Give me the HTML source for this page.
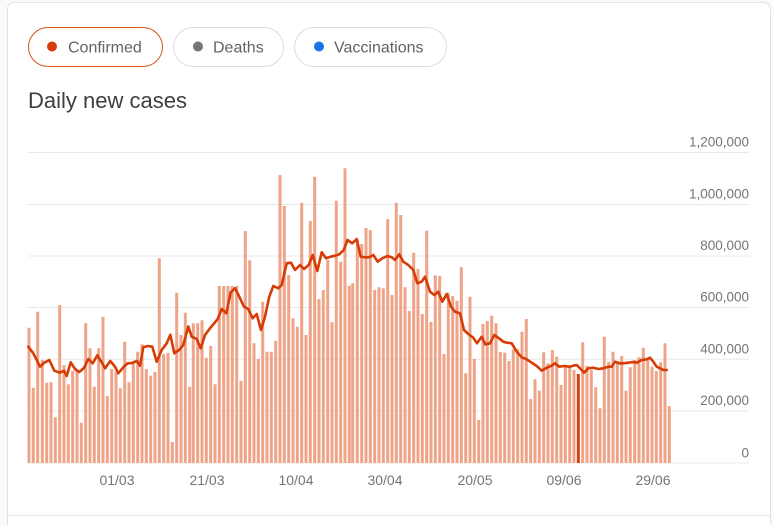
<!DOCTYPE html>
<html><head><meta charset="utf-8">
<style>
html,body{margin:0;padding:0;background:#fff;}
body{width:773px;height:525px;overflow:hidden;}
svg{display:block;}
text{font-family:"Liberation Sans",Arial,sans-serif;}
</style></head>
<body>
<svg width="773" height="525" viewBox="0 0 773 525" xmlns="http://www.w3.org/2000/svg">
<rect x="0" y="0" width="773" height="525" fill="#fafafa"/>
<path d="M7.5 525V10Q7.5 2.5 15 2.5H763Q770.5 2.5 770.5 10V525" fill="#fff" stroke="#e3e3e3" stroke-width="1"/>
<line x1="8" y1="515.5" x2="770" y2="515.5" stroke="#e6e6e6" stroke-width="1"/>
<rect x="28.5" y="27.5" width="134" height="39" rx="19.5" fill="#fff" stroke="#d4531c" stroke-width="1"/>
<circle cx="52" cy="46.5" r="5" fill="#d83b0b"/>
<text x="68" y="52.3" font-size="16" fill="#5f6368">Confirmed</text>
<rect x="173.5" y="27.5" width="110" height="39" rx="19.5" fill="#fff" stroke="#dadce0" stroke-width="1"/>
<circle cx="198" cy="46.5" r="5" fill="#757575"/>
<text x="213" y="52.3" font-size="16" fill="#5f6368">Deaths</text>
<rect x="294.5" y="27.5" width="152" height="39" rx="19.5" fill="#fff" stroke="#dadce0" stroke-width="1"/>
<circle cx="319" cy="46.5" r="5" fill="#1a73e8"/>
<text x="334" y="52.3" font-size="16" fill="#5f6368">Vaccinations</text>
<text x="28" y="108" font-size="22" fill="#3c4043">Daily new cases</text>
<g stroke="#e8e8e8" stroke-width="1">
<line x1="28" y1="152.5" x2="749" y2="152.5"/>
<line x1="28" y1="204.5" x2="749" y2="204.5"/>
<line x1="28" y1="256" x2="749" y2="256"/>
<line x1="28" y1="307.5" x2="749" y2="307.5"/>
<line x1="28" y1="359.3" x2="749" y2="359.3"/>
<line x1="28" y1="411" x2="749" y2="411"/>
<line x1="28" y1="463" x2="749" y2="463"/>
</g>
<g font-size="13.5" fill="#70757a" text-anchor="end">
<text x="749" y="146.5">1,200,000</text>
<text x="749" y="198.3">1,000,000</text>
<text x="749" y="250">800,000</text>
<text x="749" y="301.7">600,000</text>
<text x="749" y="353.4">400,000</text>
<text x="749" y="405.1">200,000</text>
<text x="749" y="457.5">0</text>
</g>
<path fill="#efa488" d="M27.5 463V327.7h3V463zM31.8 463V387.7h3V463zM36.2 463V311.7h3V463zM40.8 463V360h3V463zM45.2 463V382.7h3V463zM49.5 463V382.3h3V463zM53.8 463V417.3h3V463zM58.2 463V305h3V463zM62.5 463V365h3V463zM66.8 463V384.3h3V463zM71.2 463V370.7h3V463zM75.5 463V370.7h3V463zM79.8 463V422.7h3V463zM84.2 463V323.3h3V463zM88.5 463V348.3h3V463zM92.8 463V386.7h3V463zM97.2 463V348.3h3V463zM101.5 463V317h3V463zM105.8 463V396h3V463zM110.2 463V369h3V463zM114.5 463V371.7h3V463zM118.8 463V388.3h3V463zM123.2 463V341.7h3V463zM127.5 463V382.3h3V463zM131.8 463V363.3h3V463zM136.2 463V351.7h3V463zM140.5 463V344.3h3V463zM144.8 463V369h3V463zM149.2 463V375.7h3V463zM153.5 463V372h3V463zM157.8 463V258.3h3V463zM162.2 463V354h3V463zM166.5 463V352.7h3V463zM170.8 463V442h3V463zM175.2 463V292.7h3V463zM179.5 463V335h3V463zM183.8 463V312.7h3V463zM188.2 463V386.7h3V463zM191.8 463V323.3h3V463zM196.2 463V323.3h3V463zM200.5 463V320.3h3V463zM204.8 463V357.7h3V463zM209.2 463V346h3V463zM213.5 463V384.3h3V463zM217.8 463V286h3V463zM222.2 463V286h3V463zM226.5 463V286h3V463zM230.8 463V286h3V463zM235.2 463V286h3V463zM239.5 463V381h3V463zM243.8 463V231h3V463zM248.2 463V260.3h3V463zM252.5 463V343.3h3V463zM256.8 463V359h3V463zM261.2 463V301.7h3V463zM265.5 463V351.7h3V463zM269.8 463V351.7h3V463zM274.2 463V340.7h3V463zM278.5 463V175h3V463zM282.8 463V206h3V463zM287.2 463V275h3V463zM291.5 463V318.3h3V463zM295.8 463V326.7h3V463zM300.2 463V202.7h3V463zM304.5 463V335h3V463zM308.8 463V221h3V463zM313.2 463V176.7h3V463zM317.5 463V299h3V463zM321.8 463V290h3V463zM326.2 463V260h3V463zM330.5 463V322.3h3V463zM334.8 463V200.7h3V463zM339.2 463V261.7h3V463zM343.5 463V168.3h3V463zM347.8 463V285.7h3V463zM351.2 463V283.3h3V463zM355.8 463V240h3V463zM360.2 463V244h3V463zM364.5 463V228h3V463zM368.8 463V230h3V463zM373.2 463V290h3V463zM377.5 463V287.3h3V463zM381.8 463V288.3h3V463zM386.2 463V219h3V463zM390.5 463V295h3V463zM394.8 463V202.7h3V463zM399.2 463V215h3V463zM403.5 463V287.3h3V463zM407.8 463V311h3V463zM412.2 463V252.7h3V463zM416.5 463V269h3V463zM420.8 463V314h3V463zM425.2 463V230.7h3V463zM429.5 463V322h3V463zM433.8 463V275.3h3V463zM438.2 463V276h3V463zM442.5 463V354h3V463zM446.8 463V292.7h3V463zM451.2 463V296h3V463zM455.5 463V300.7h3V463zM459.8 463V267.3h3V463zM464.2 463V373.3h3V463zM468.5 463V296.7h3V463zM472.8 463V359h3V463zM477.2 463V420h3V463zM481.5 463V324h3V463zM485.8 463V321h3V463zM490.2 463V315.7h3V463zM494.5 463V323.3h3V463zM498.8 463V352h3V463zM503.2 463V352.7h3V463zM507.5 463V361h3V463zM511.8 463V349.3h3V463zM516.2 463V349h3V463zM520.5 463V331.7h3V463zM524.8 463V319h3V463zM529.2 463V399h3V463zM533.5 463V379.3h3V463zM537.8 463V390.7h3V463zM542.2 463V352.3h3V463zM546.5 463V363.3h3V463zM550.8 463V350h3V463zM555.2 463V356.7h3V463zM559.5 463V385h3V463zM563.8 463V366.7h3V463zM568.2 463V366.7h3V463zM572.5 463V370h3V463zM581.2 463V342.3h3V463zM585.5 463V365.7h3V463zM589.8 463V370h3V463zM594.2 463V387.3h3V463zM598.5 463V408.3h3V463zM602.8 463V336.7h3V463zM607.2 463V361.7h3V463zM611.5 463V351.7h3V463zM615.8 463V361h3V463zM620.2 463V356h3V463zM624.5 463V390.7h3V463zM628.8 463V367.3h3V463zM633.2 463V360h3V463zM637.5 463V357.3h3V463zM641.8 463V347.7h3V463zM646.2 463V359.3h3V463zM650.5 463V366.7h3V463zM654.8 463V371h3V463zM659.2 463V362.3h3V463zM663.5 463V343.3h3V463zM667.8 463V406h3V463z"/>
<rect x="576.8" y="374" width="3" height="89" fill="#d2400c"/>
<polyline fill="none" stroke="#d63c06" stroke-width="2.6" stroke-linejoin="round" stroke-linecap="round" points="28.3,346.7 33.3,353.3 40,366.7 44.3,362.7 49.3,360 54.3,370.7 59.7,372.7 64,370.7 66.7,376 70.7,362.3 75,369 79.3,372 83.7,368.3 88.3,359 92.7,363.3 97.3,355.3 101.7,362.3 105,368.3 110.3,361 115,366.7 118.3,373.3 123.3,367.3 127.7,363.3 132,363 136.7,361 140,365.7 143.3,347.3 147.7,346 152.3,346.7 156.7,361.7 161.7,350 166.7,343.3 170.3,334.7 174.3,353.3 179,350 183.3,345 188.3,326.5 191.7,336.7 196.7,339 200.7,348.3 205,335 210,328.3 217.7,319 221.7,309 226.3,313.3 230.7,292.3 235,288.3 239.3,296.7 244,306.7 248.3,309 252.7,318.3 256.7,314 261,330 265,316.7 269.3,296.7 273.3,286 278.3,288.3 281.7,285 286.7,263.3 291,262.7 295,270 300,265 304,269 308.7,265 312.7,255 317.3,271 321.7,252.3 326,258.3 330.7,256.7 335,255.7 339.3,254.3 343.7,250 347.5,240 352.3,243.3 356.7,239 360.7,256.7 365,257.3 369,257.3 373.3,255 377.7,261.7 382.3,258.3 387.3,256 391.7,257.3 395,260 399.3,254.3 403.3,261.7 408.3,265 413.3,270 417.3,283.3 421.7,281.7 425,276.7 430,291.7 434.3,295 438.3,291.7 442.3,301.7 446.7,294 451,306.7 455,311.7 460,313.3 464,330 468.3,334 473.3,337.7 477,343.3 481.7,336.7 485.3,344.3 490,343.3 494.3,335 499,338.3 503.3,341.7 507,342.7 511.7,343.3 516.7,351.7 521.7,357.3 526.7,359.3 531.7,362.7 536.7,366 541.7,370.7 546.7,367.7 551.7,365.7 555,363.3 559.3,366.7 564.3,366 569.3,366.7 573.3,365.7 576.7,365 580,368.3 584,372.7 588.3,368.3 593.3,367.7 598.3,369 603.3,368.3 608.3,366.7 611.7,366.7 615,361.7 619.3,363.3 623.3,363.3 628.3,362.7 633.3,362 636.7,362.7 641.7,360 646.7,359.3 650,357.7 653.3,361.7 656.7,366.7 660,368.3 663.3,370 666.7,370"/>
<g font-size="14" fill="#70757a" text-anchor="middle">
<text x="117" y="485">01/03</text>
<text x="207" y="485">21/03</text>
<text x="296" y="485">10/04</text>
<text x="385" y="485">30/04</text>
<text x="475" y="485">20/05</text>
<text x="564" y="485">09/06</text>
<text x="653" y="485">29/06</text>
</g>
</svg>
</body></html>
